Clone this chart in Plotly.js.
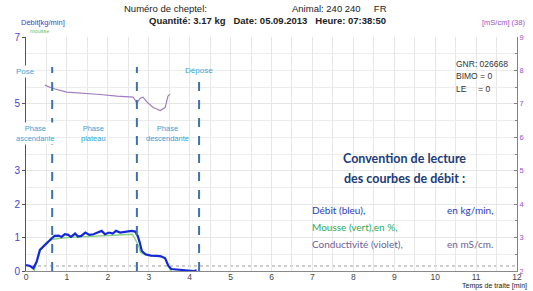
<!DOCTYPE html>
<html><head><meta charset="utf-8">
<script src="https://cdn.plot.ly/plotly-3.0.1.min.js"></script>
<style>html,body{margin:0;padding:0;background:#fff}#c{width:533px;height:291px}</style>
</head><body><div id="c"></div>
<script>
// Débit (bleu), kg/min
const debitX = [0,0.1,0.18,0.26,0.34,0.46,0.55,0.63,0.7,0.8,0.87,0.95,1.03,1.1,1.2,1.27,1.35,1.45,1.55,1.65,1.75,1.85,1.93,2.03,2.12,2.2,2.3,2.4,2.5,2.58,2.67,2.73,2.78,2.83,2.92,3.05,3.2,3.3,3.4,3.48,3.55,3.7,3.9,4.1,4.17];
const debitY = [0.18,0.15,0.08,0.28,0.63,0.78,0.9,0.98,1.05,1.06,1.02,1.1,1.08,1.02,1.12,1.03,1.05,1.15,1.08,1.1,1.15,1.2,1.1,1.15,1.12,1.2,1.15,1.16,1.17,1.2,1.18,1.05,0.85,0.6,0.5,0.46,0.45,0.44,0.38,0.15,0.06,0.04,0.01,0.0,0.02];
// Mousse (vert)
const mousseX = [0.2,0.28,0.36,0.5,0.65,1.0,1.5,2.0,2.6,2.67,2.75,2.8,2.95,3.2,3.4,3.5,3.55];
const mousseY = [0.0,0.3,0.65,0.85,0.95,1.0,1.03,1.05,1.1,0.95,0.75,0.55,0.47,0.45,0.4,0.1,0.0];
// Conductivité (violet), mS/cm
const condX = [0.46,0.66,1.0,1.39,1.81,2.22,2.62,2.67,2.71,2.79,2.86,2.96,3.11,3.28,3.40,3.47,3.52];
const condY = [7.56,7.46,7.35,7.32,7.28,7.23,7.20,7.11,7.01,7.17,7.20,7.05,6.89,6.80,6.89,7.23,7.29];
// Phase markers
const phaseX = [0.64, 2.71, 4.23];
const phaseTop = [6.1, 6.1, 5.66];
const seuil = 0.15;
const xTicks = [0,1,2,3,4,5,6,7,8,9,10,11,12];
const yLeftTicks = [0,1,2,3,5,7];
const yRightTicks = [2,3,4,5,6,7,8,9];

const F = "Liberation Sans, Arial, sans-serif";
const traces = [
  {x: mousseX, y: mousseY, mode:'lines', line:{color:'#86d27e', width:1.3}, hoverinfo:'skip'},
  {x: debitX, y: debitY, mode:'lines', line:{color:'#1428d8', width:2.2}, hoverinfo:'skip'},
  {x: condX, y: condY, yaxis:'y2', mode:'lines', line:{color:'#a07cc4', width:1.2}, hoverinfo:'skip'}
];
const shapes = [
  {type:'line', xref:'x', yref:'y', x0:0, x1:12, y0:seuil, y1:seuil, line:{color:'#9a9a9a', width:1, dash:'dot'}, layer:'below'}
];
phaseX.forEach((px,i)=>shapes.push({type:'line', xref:'x', yref:'y', x0:px, x1:px, y0:0, y1:phaseTop[i], line:{color:'#3d72b0', width:2, dash:'dash'}}));

const lb = '#35a4d8';
function A(text, x, y, opts){ return Object.assign({text, x, y, xref:'x', yref:'y', showarrow:false, font:{family:F, size:8, color:lb}}, opts||{}); }
const anns = [
  A('Dépose', 4.23, 6.0, {xanchor:'center'}),
  A('Phase<br>ascendante', 0.22, 4.1, {bgcolor:'#fff', font:{family:F, size:7.5, color:lb}}),
  A('Phase<br>plateau', 1.65, 4.1, {font:{family:F, size:7.5, color:lb}}),
  A('Phase<br>descendante', 3.45, 4.1, {font:{family:F, size:7.5, color:lb}}),
  A('GNR: 026668', 10.45, 6.2, {xanchor:'left', font:{family:F, size:8.5, color:'#333'}}),
  A('BIMO = 0', 10.45, 5.82, {xanchor:'left', font:{family:F, size:8.5, color:'#333'}}),
  A('LE&nbsp;&nbsp;&nbsp;&nbsp;&nbsp;= 0', 10.45, 5.45, {xanchor:'left', font:{family:F, size:8.5, color:'#333'}}),
  A('<b>Convention de lecture</b>', 9.25, 3.36, {font:{family:'Lato, sans-serif', size:12.5, color:'#203b78'}}),
  A('<b>des courbes de débit :</b>', 9.25, 2.78, {font:{family:'Lato, sans-serif', size:12.5, color:'#203b78'}}),
  A('Débit (bleu),', 6.95, 1.81, {xanchor:'left', font:{family:'Lato, sans-serif', size:10, color:'#2a3db8'}}),
  A('en kg/min,', 10.25, 1.81, {xanchor:'left', font:{family:'Lato, sans-serif', size:10, color:'#2a3db8'}}),
  A('Mousse (vert),en %,', 6.95, 1.31, {xanchor:'left', font:{family:'Lato, sans-serif', size:10, color:'#2fa857'}}),
  A('Conductivité (violet),', 6.95, 0.8, {xanchor:'left', font:{family:'Lato, sans-serif', size:10, color:'#6e5e90'}}),
  A('en mS/cm.', 10.25, 0.8, {xanchor:'left', font:{family:'Lato, sans-serif', size:10, color:'#6e5e90'}})
];
// paper-positioned texts (pixel based helpers)
function P(text, px, py, opts){ return Object.assign({text, x:(px-26)/491, y:(271-py)/234, xref:'paper', yref:'paper', showarrow:false, xanchor:'left', yanchor:'middle', font:{family:F, size:9.5, color:'#222'}}, opts||{}); }
const hdr = [
  P('Pose', 25, 71, {xanchor:'center', bgcolor:'#fff', font:{family:F, size:8, color:lb}}),
  P('Numéro de cheptel:', 122, 9),
  P('Animal: 240 240&nbsp;&nbsp;&nbsp;&nbsp;&nbsp;FR', 290, 9),
  P('<b>Quantité: 3.17 kg&nbsp;&nbsp;&nbsp;Date: 05.09.2013&nbsp;&nbsp;&nbsp;Heure: 07:38:50</b>', 147, 20),
  P('Débit[kg/min]', 19, 22, {font:{family:F, size:7.5, color:'#3b3fd0'}}),
  P('mousse', 28, 31, {font:{family:F, size:5.5, color:'#5fc06a'}}),
  P('[mS/cm] (38)', 480, 22, {font:{family:F, size:7.5, color:'#9a4fc8'}}),
  P('Temps de traite [min]', 529, 286, {xanchor:'right', font:{family:F, size:7, color:'#222'}})
];

const layout = {
  width:533, height:291,
  margin:{l:26, r:16, t:37, b:20},
  paper_bgcolor:'#fff', plot_bgcolor:'#fff',
  showlegend:false,
  xaxis:{range:[0,12], tickvals:xTicks, ticktext:xTicks.map(String), showgrid:true, gridcolor:'#e6e6e6', gridwidth:1,
    minor:{dtick:0.5, showgrid:true, gridcolor:'#e6e6e6'},
    zeroline:false, showline:true, linecolor:'#888', linewidth:1, ticks:'', ticklabelstandoff:-2, tickfont:{family:F, size:8.5, color:'#444'}, fixedrange:true},
  yaxis:{range:[0,7], tickvals:yLeftTicks, ticktext:yLeftTicks.map(String), showgrid:true, gridcolor:'#e6e6e6',
    minor:{dtick:0.5, showgrid:true, gridcolor:'#ececec'},
    zeroline:false, showline:true, linecolor:'#555', linewidth:1, ticks:'outside', ticklen:3, tickcolor:'#555',
    tickfont:{family:F, size:10, color:'#4a3fd0'}, fixedrange:true},
  yaxis2:{range:[2,9], overlaying:'y', side:'right', tickvals:yRightTicks, ticktext:yRightTicks.map(String), showgrid:false,
    zeroline:false, showline:true, linecolor:'#8a7aa0', linewidth:1, ticks:'inside', ticklen:3, tickcolor:'#8a7aa0',
    minor:{dtick:0.5, ticks:'inside', ticklen:2, tickcolor:'#8a7aa0'},
    tickfont:{family:F, size:7.5, color:'#9a4fc8'}, fixedrange:true},
  shapes: shapes,
  annotations: anns.concat(hdr)
};
Plotly.newPlot('c', traces, layout, {staticPlot:true, displayModeBar:false});
</script></body></html>
